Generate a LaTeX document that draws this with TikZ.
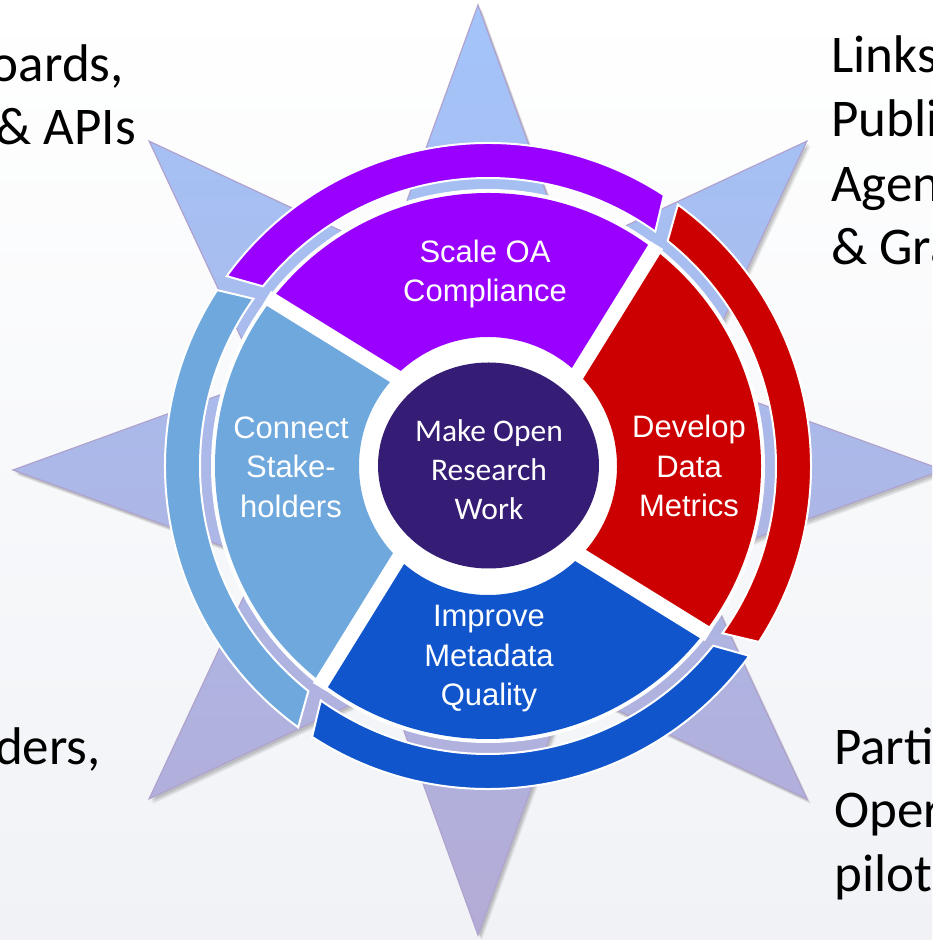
\documentclass[tikz,border=0pt]{standalone}
\usepackage{fontspec}
\setmainfont{Carlito}
\newfontfamily\segfont{Liberation Sans}
\definecolor{segpurple}{RGB}{153,0,255}
\definecolor{segred}{RGB}{204,0,0}
\definecolor{segblue}{RGB}{17,85,204}
\definecolor{seglight}{RGB}{111,168,220}
\definecolor{corecol}{RGB}{53,28,117}
\definecolor{startop}{RGB}{163,196,250}
\definecolor{starbot}{RGB}{180,172,214}
\definecolor{staredge}{RGB}{176,162,206}
\definecolor{bgbot}{RGB}{240,242,246}
\begin{document}
\begin{tikzpicture}[x=1pt,y=1pt,
  seglabel/.style={text=white,align=center,inner sep=0pt,font=\segfont\fontsize{31}{39.5}\selectfont},
  corelabel/.style={text=white,align=center,inner sep=0pt,font=\fontsize{31.5}{39}\selectfont},
  sidetext/.style={text=black,inner sep=0pt,font=\fontsize{53}{63.5}\selectfont},
  bandstyle/.style={draw=white,line width=2pt,line join=miter},
  gapline/.style={draw=white,line width=15pt,shorten <=-6pt,shorten >=-5pt}]
\useasboundingbox (0,0) rectangle (932,940);
\clip (0,0) rectangle (932,940);
% background
\shade[top color=white,middle color=white,bottom color=bgbot] (0,0) rectangle (932,940);
% star
\begin{scope}[shift={(478,470)}]
  \foreach \dx/\dy/\op in {4/-5/0.06,3/-4/0.08,2/-2.5/0.10}{
    \fill[black,opacity=\op,shift={(\dx,\dy)}] (90:465pt)
      \foreach \i [evaluate=\i as \r using {mod(\i,2)==1?235:465}] in {1,...,15}{ -- ({90+22.5*\i}:\r pt) } -- cycle;
  }
  \shade[top color=startop,bottom color=starbot] (90:465pt)
    \foreach \i [evaluate=\i as \r using {mod(\i,2)==1?235:465}] in {1,...,15}{ -- ({90+22.5*\i}:\r pt) } -- cycle;
  \draw[staredge,line width=1.2pt,line join=miter] (90:465pt)
    \foreach \i [evaluate=\i as \r using {mod(\i,2)==1?235:465}] in {1,...,15}{ -- ({90+22.5*\i}:\r pt) } -- cycle;
\end{scope}
% ring
\begin{scope}[shift={(488,474)}]
  % outer bands
  \foreach \c/\a in {segpurple/0,seglight/90,segblue/180,segred/270}{
    \filldraw[fill=\c,bandstyle] ({54.5+\a}:288pt) arc[start angle={54.5+\a},end angle={141.4+\a},radius=288pt]
      -- ({144+\a}:323pt) arc[start angle={144+\a},end angle={57+\a},radius=323pt] -- cycle;
  }
  % white backing disk
  \fill[white] (0,0) circle (277pt);
  % inner segments
  \foreach \c/\ia/\oa/\ob/\ib in {segpurple/46/52.5/142.5/136, seglight/136/142.5/232.5/226, segblue/226/232.5/322.5/316, segred/316/322.5/412.5/406}{
    \fill[\c] (\ia:129pt) -- (\oa:273pt) arc[start angle=\oa,end angle=\ob,radius=273pt]
      -- (\ib:129pt) arc[start angle=\ib,end angle=\ia,radius=129pt] -- cycle;
  }
  \foreach \b in {45,135,225,315}{
    \draw[gapline] ({\b+1}:129pt) -- ({\b+7.5}:273pt);
  }
  % core
  \fill[corecol] (0.5,0.5) ellipse[x radius=110.5pt,y radius=103pt];
\end{scope}
% labels
\node[corelabel] (core) at (489,470) {Make Open\\Research\\Work};
\node[seglabel] (scale) at (485,666) {Scale OA\\Compliance};
\node[seglabel] (connect) at (291,473) {Connect\\Stake-\\holders};
\node[seglabel] (develop) at (689,474) {Develop\\Data\\Metrics};
\node[seglabel] (improve) at (489,281) {Improve\\Metadata\\Quality};
% side texts
\node[sidetext,anchor=base east] (tl1) at (124,858) {oards,};
\node[sidetext,anchor=base east] (tl2) at (136,795) {\& APIs};
\node[sidetext,anchor=base east] (bl1) at (101,175) {ders,};
\node[sidetext,anchor=base west] (tr1) at (831,867) {Links};
\node[sidetext,anchor=base west] (tr2) at (831,803) {Publi};
\node[sidetext,anchor=base west] (tr3) at (831,738) {Agen};
\node[sidetext,anchor=base west] (tr4) at (831,675) {\& Gra};
\node[sidetext,anchor=base west] (br1) at (834,175) {Parti};
\node[sidetext,anchor=base west] (br2) at (834,112) {Oper};
\node[sidetext,anchor=base west] (br3) at (834,48) {pilot};
\end{tikzpicture}
\end{document}
